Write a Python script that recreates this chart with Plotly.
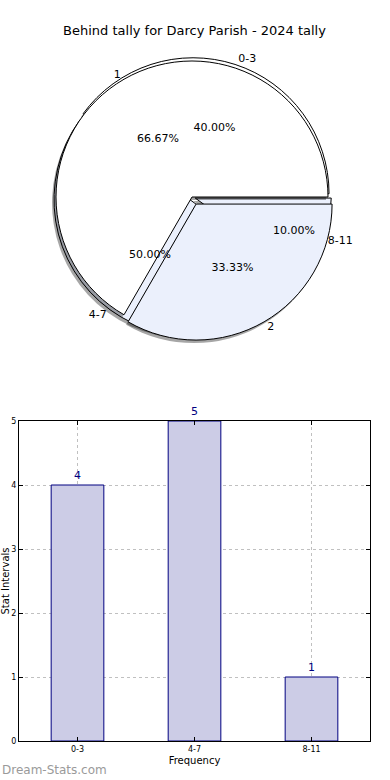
import plotly.graph_objects as go

# ---- data ----
title_text = "Behind tally for Darcy Parish - 2024 tally"
tally_labels = ["1", "2"]
tally_values = [2, 1]
interval_labels = ["0-3", "4-7", "8-11"]
interval_values = [4, 5, 1]
x_title = "Frequency"
y_title = "Stat Intervals"
watermark = "Dream-Stats.com"

# ---- styles ----
WHITE = "#ffffff"
LBLUE = "#ebf0fc"
tally_colors = [WHITE, LBLUE]
interval_colors = [WHITE, LBLUE, LBLUE]
tally_pull = [0.0, 0.06]
interval_pull = [0.025, 0.025, 0.025]
FONT = "DejaVu Sans"

W, H = 390, 780
ML, MR, MT, MB = 19, 20, 0, 39
PW, PH = W - ML - MR, H - MT - MB
CX, CY, R = 192, 197, 136


def dom(pulls, dx=0, dy=0):
    half = R * (1 + max(pulls))
    cx = (CX + dx - ML) / PW
    cy = (H - MB - (CY + dy)) / PH
    return dict(x=[cx - half / PW, cx + half / PW], y=[cy - half / PH, cy + half / PH])


def rev(seq):
    return list(seq)[::-1]


fig = go.Figure()

# slices drawn counter-clockwise from 3 o'clock (matplotlib style):
# plotly clockwise from 3 o'clock with the order reversed gives the same layout
common = dict(sort=False, direction="clockwise", rotation=90,
              hoverinfo="skip", showlegend=False)

pies = [
    (interval_labels, interval_values, interval_pull, interval_colors),
    (tally_labels, tally_values, tally_pull, tally_colors),
]

for labels, values, pulls, colors in pies:
    # shadow
    fig.add_trace(go.Pie(labels=rev(labels), values=rev(values), pull=rev(pulls),
                         domain=dom(pulls, -2, 3), textinfo="none",
                         marker=dict(colors=["rgba(0,0,0,0.35)"] * len(values), line=dict(width=0)),
                         **common))
    # pie
    fig.add_trace(go.Pie(labels=rev(labels), values=rev(values), pull=rev(pulls),
                         domain=dom(pulls), textinfo="none",
                         marker=dict(colors=rev(colors), line=dict(color="black", width=1)),
                         **common))

# percent texts and outside labels (transparent overlays)
for labels, values, pulls, colors in pies:
    fig.add_trace(go.Pie(labels=rev(labels), values=rev(values), pull=rev(pulls), domain=dom(pulls),
                         texttemplate="%{percent:.2%}", textposition="inside",
                         insidetextorientation="horizontal",
                         textfont=dict(family=FONT, size=11, color="black"),
                         marker=dict(colors=["rgba(0,0,0,0)"] * len(values), line=dict(width=0)),
                         **common))
    fig.add_trace(go.Pie(labels=rev(labels), values=rev(values), pull=rev(pulls), domain=dom(pulls),
                         texttemplate="%{label}", textposition="outside",
                         textfont=dict(family=FONT, size=11, color="black"),
                         marker=dict(colors=["rgba(0,0,0,0)"] * len(values), line=dict(width=0)),
                         **common))

# bar chart
fig.add_trace(go.Bar(x=interval_labels, y=interval_values, width=0.45,
                     marker=dict(color="#ccccE6", line=dict(color="#000080", width=1)),
                     text=interval_values, textposition="outside", cliponaxis=False,
                     textfont=dict(family=FONT, size=11, color="#000080"),
                     hoverinfo="skip", showlegend=False))

bar_top = (H - MB - 421) / PH
fig.update_layout(
    width=W, height=H, paper_bgcolor="white", plot_bgcolor="white",
    margin=dict(l=ML, r=MR, t=MT, b=MB, autoexpand=False),
    font=dict(family=FONT, color="black"),
    title=dict(text=title_text, x=0.5, xref="paper", y=1 - 30 / H, yref="container",
               yanchor="middle", font=dict(family=FONT, size=13, color="black")),
    xaxis=dict(domain=[0, 1], range=[-0.5, 2.5], showline=True, linecolor="black", linewidth=1,
               mirror="ticks", ticks="inside", ticklen=4, tickcolor="black",
               showgrid=True, gridcolor="#c0c0c0", griddash="dot", gridwidth=1,
               tickfont=dict(family=FONT, size=8, color="black"),
               title=dict(text=x_title, font=dict(family=FONT, size=10, color="black"), standoff=4),
               automargin=False, zeroline=False),
    yaxis=dict(domain=[0, bar_top], range=[0, 5], showline=True, linecolor="black", linewidth=1,
               mirror="ticks", ticks="inside", ticklen=4, tickcolor="black", dtick=1,
               showgrid=True, gridcolor="#c0c0c0", griddash="dot", gridwidth=1,
               tickfont=dict(family=FONT, size=8, color="black"),
               title=dict(text=y_title, font=dict(family=FONT, size=10, color="black"), standoff=2),
               automargin=False, zeroline=False),
    annotations=[dict(text=watermark, xref="paper", yref="paper", x=-ML / PW, y=-(770 - (H - MB)) / PH,
                      xanchor="left", yanchor="middle", showarrow=False,
                      font=dict(family="DejaVu Sans", size=12, color="#9a9a9a"))],
)

fig.write_html("out.html", config={"displayModeBar": False},
               post_script="document.body.style.margin='0';")
